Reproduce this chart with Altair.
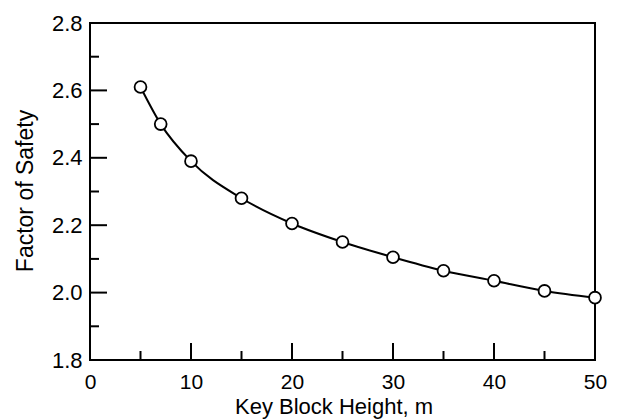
import altair as alt
import pandas as pd

# Data
heights = [5, 7, 10, 15, 20, 25, 30, 35, 40, 45, 50]
fos = [2.61, 2.50, 2.39, 2.28, 2.205, 2.15, 2.105, 2.065, 2.035, 2.005, 1.985]

x_labels = [0, 10, 20, 30, 40, 50]
y_labels = [1.8, 2.0, 2.2, 2.4, 2.6, 2.8]
x_major = [10, 20, 30, 40]
x_minor = [5, 15, 25, 35, 45]
y_major = [2.0, 2.2, 2.4, 2.6]
y_minor = [1.9, 2.1, 2.3, 2.5, 2.7]

W, H = 505, 337
FONT = "Liberation Sans"

df = pd.DataFrame({"h": heights, "f": fos})

xscale = alt.Scale(domain=[0, 50], nice=False, zero=False)
yscale = alt.Scale(domain=[1.8, 2.8], nice=False, zero=False)

xaxis = alt.Axis(values=x_labels, ticks=False, domain=False, grid=False,
                 labelFont=FONT, labelFontSize=21, labelColor="black", labelPadding=11,
                 title="Key Block Height, m", titleFont=FONT, titleFontSize=22,
                 titleFontWeight="normal", titleColor="black",
                 titleX=243.5, titleY=53, titleBaseline="alphabetic", titleAlign="center",
                 labelFlush=False)
yaxis = alt.Axis(values=y_labels, ticks=False, domain=False, grid=False, format=".1f",
                 labelFont=FONT, labelFontSize=22, labelColor="black", labelPadding=8,
                 title="Factor of Safety", titleFont=FONT, titleFontSize=23,
                 titleFontWeight="normal", titleColor="black",
                 titleX=-58, titleY=167.5, titleBaseline="alphabetic", titleAlign="center",
                 titleAngle=270, labelFlush=False)

line = alt.Chart(df).mark_line(color="black", strokeWidth=2, interpolate="monotone").encode(
    x=alt.X("h:Q", scale=xscale, axis=xaxis),
    y=alt.Y("f:Q", scale=yscale, axis=yaxis),
)
pts = alt.Chart(df).mark_point(shape="circle", size=140, filled=True, fill="white",
                               stroke="black", strokeWidth=1.8, opacity=1).encode(
    x=alt.X("h:Q", scale=xscale),
    y=alt.Y("f:Q", scale=yscale),
)

xmaj = alt.Chart(pd.DataFrame({"t": x_major})).mark_rule(color="black", strokeWidth=2).encode(
    x=alt.X("t:Q", scale=xscale), y=alt.value(H), y2=alt.value(H - 17))
xmin = alt.Chart(pd.DataFrame({"t": x_minor})).mark_rule(color="black", strokeWidth=2).encode(
    x=alt.X("t:Q", scale=xscale), y=alt.value(H), y2=alt.value(H - 9))
ymaj = alt.Chart(pd.DataFrame({"t": y_major})).mark_rule(color="black", strokeWidth=2).encode(
    y=alt.Y("t:Q", scale=yscale), x=alt.value(0), x2=alt.value(17))
ymin = alt.Chart(pd.DataFrame({"t": y_minor})).mark_rule(color="black", strokeWidth=2).encode(
    y=alt.Y("t:Q", scale=yscale), x=alt.value(0), x2=alt.value(9))

chart = alt.layer(line, pts, xmaj, xmin, ymaj, ymin).properties(
    width=W, height=H,
    background="white",
    autosize=alt.AutoSizeParams(type="none"),
    padding={"left": 82, "top": 15, "right": 15, "bottom": 62},
).configure_view(stroke="black", strokeWidth=2)

chart.save("out.html", embed_options={"renderer": "svg", "actions": False})
